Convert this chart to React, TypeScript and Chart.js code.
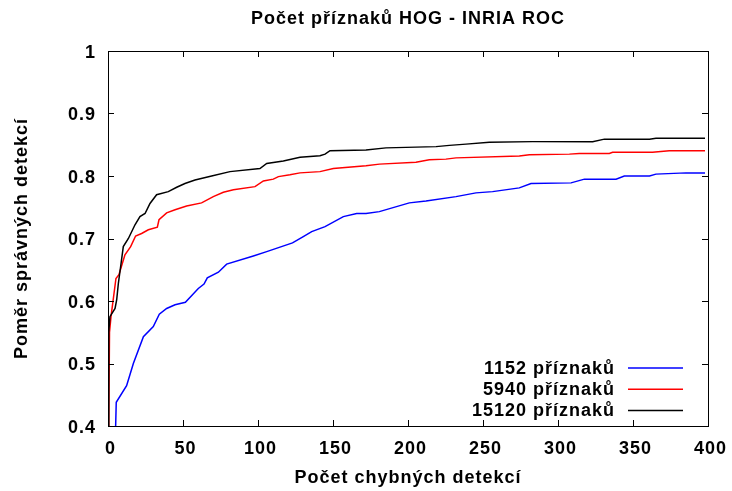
import React, { useEffect, useRef } from "react";
import { Chart, registerables } from "chart.js";

Chart.register(...registerables);

const TITLE = "Počet příznaků HOG - INRIA ROC";
const X_TITLE = "Počet chybných detekcí";
const Y_TITLE = "Poměr správných detekcí";
const SERIES_LABELS = ["1152 příznaků", "5940 příznaků", "15120 příznaků"];
const SERIES_COLORS = ["#0000ff", "#ff0000", "#000000"];

const blueX = [5.1, 5.5, 12.4, 16.9, 23.6, 30.2, 34.2, 39.1, 44.7, 51.6, 60.2, 64, 66.2, 73.6, 79.1, 96.9, 105.8, 123, 130.2, 135.8, 144.7, 156.9, 165.8, 172, 180.9, 200.9, 212, 232, 245.3, 256.4, 274.2, 282, 308.7, 317.6, 338.7, 344.2, 361, 365.3, 385.3, 398];
const blueY = [0.4, 0.438, 0.4645, 0.5, 0.543, 0.559, 0.579, 0.588, 0.594, 0.598, 0.62, 0.627, 0.637, 0.646, 0.659, 0.672, 0.679, 0.693, 0.703, 0.711, 0.719, 0.735, 0.74, 0.74, 0.743, 0.757, 0.76, 0.767, 0.773, 0.775, 0.781, 0.788, 0.789, 0.795, 0.795, 0.8, 0.8, 0.803, 0.805, 0.805];

const redX = [0.5, 1, 2, 5.3, 7.3, 11.3, 15.1, 18.4, 22.4, 26.9, 32.9, 34, 39.1, 44.7, 52.4, 62.4, 70.2, 76.9, 83.6, 98, 103.6, 110.2, 113.6, 121.3, 128, 141.3, 150.2, 172, 181, 205.3, 214.2, 225.3, 232, 274.2, 280.9, 307.6, 314.2, 334.2, 336.4, 363, 374.2, 398];
const redY = [0.4, 0.55, 0.575, 0.636, 0.642, 0.674, 0.687, 0.704, 0.708, 0.714, 0.718, 0.73, 0.741, 0.746, 0.752, 0.757, 0.767, 0.774, 0.778, 0.783, 0.792, 0.795, 0.799, 0.802, 0.805, 0.807, 0.812, 0.8165, 0.819, 0.822, 0.826, 0.827, 0.829, 0.832, 0.834, 0.835, 0.836, 0.836, 0.838, 0.838, 0.8405, 0.8405];

const blackX = [0, 0.5, 1.3, 4.7, 5.8, 6.9, 8.7, 10.2, 13.6, 18, 21.3, 24.7, 28, 32.4, 40.2, 45.8, 51.3, 58, 69.1, 81.3, 101.3, 105.8, 116.9, 128, 141.3, 144.7, 148, 172, 185.3, 218.7, 227.6, 238.7, 254.2, 283.1, 323.1, 330.9, 361, 365.3, 398];
const blackY = [0.4, 0.55, 0.575, 0.588, 0.602, 0.628, 0.66, 0.687, 0.7, 0.722, 0.735, 0.74, 0.756, 0.77, 0.775, 0.782, 0.788, 0.7935, 0.8, 0.807, 0.812, 0.82, 0.824, 0.83, 0.8325, 0.835, 0.8405, 0.8416, 0.845, 0.847, 0.849, 0.851, 0.854, 0.855, 0.855, 0.859, 0.859, 0.8603, 0.8603];

const X_TICKS = [0, 50, 100, 150, 200, 250, 300, 350, 400];
const Y_TICKS = [0.4, 0.5, 0.6, 0.7, 0.8, 0.9, 1];

const FONT_FAMILY = "'Liberation Sans', Arial, sans-serif";

function pts(xs: number[], ys: number[]) {
  return xs.map((x, i) => ({ x, y: ys[i] }));
}

const spacingPlugin = {
  id: "spacing",
  beforeLayout(chart: any) {
    chart.ctx.letterSpacing = "1px";
  },
  beforeDraw(chart: any) {
    chart.ctx.letterSpacing = "1px";
  },
};

const framePlugin = {
  id: "frame",
  afterDraw(chart: any) {
    const { ctx, chartArea } = chart;
    const { left, right, top, bottom } = chartArea;
    const xs = chart.scales.x;
    const ys = chart.scales.y;
    ctx.save();
    ctx.strokeStyle = "#000";
    ctx.lineWidth = 1;
    ctx.strokeRect(left + 0.5, top + 0.5, right - left, bottom - top);
    const tl = 6;
    ctx.beginPath();
    X_TICKS.forEach((v) => {
      const px = Math.round(xs.getPixelForValue(v)) + 0.5;
      ctx.moveTo(px, bottom);
      ctx.lineTo(px, bottom - tl);
      ctx.moveTo(px, top);
      ctx.lineTo(px, top + tl);
    });
    Y_TICKS.forEach((v) => {
      const py = Math.round(ys.getPixelForValue(v)) + 0.5;
      ctx.moveTo(left, py);
      ctx.lineTo(left + tl, py);
      ctx.moveTo(right, py);
      ctx.lineTo(right - tl, py);
    });
    ctx.stroke();

    // legend
    ctx.letterSpacing = "1px";
    ctx.font = "bold 18px " + FONT_FAMILY;
    ctx.textAlign = "right";
    ctx.textBaseline = "middle";
    const textRight = right - 93;
    const lineStart = right - 80;
    const lineEnd = right - 25;
    const rowY0 = bottom - 58;
    const rowGap = 21.2;
    chart.data.datasets.forEach((ds: any, i: number) => {
      const y = rowY0 + i * rowGap;
      ctx.fillStyle = "#000";
      ctx.fillText(ds.label, textRight, y + 1);
      ctx.beginPath();
      ctx.strokeStyle = ds.borderColor;
      ctx.lineWidth = 1.5;
      ctx.moveTo(lineStart, y);
      ctx.lineTo(lineEnd, y);
      ctx.stroke();
    });
    ctx.restore();
  },
};

export default function App() {
  const ref = useRef<HTMLCanvasElement | null>(null);
  useEffect(() => {
    document.body.style.margin = "0";
    const canvas = ref.current!;
    const font = { family: FONT_FAMILY, size: 18, weight: "bold" as const };
    const chart = new Chart(canvas, {
      type: "scatter",
      data: {
        datasets: [
          { label: SERIES_LABELS[0], data: pts(blueX, blueY), borderColor: SERIES_COLORS[0], order: 3 },
          { label: SERIES_LABELS[1], data: pts(redX, redY), borderColor: SERIES_COLORS[1], order: 2 },
          { label: SERIES_LABELS[2], data: pts(blackX, blackY), borderColor: SERIES_COLORS[2], order: 1 },
        ].map((d) => ({
          ...d,
          showLine: true,
          pointRadius: 0,
          borderWidth: 1.5,
          backgroundColor: d.borderColor,
          tension: 0,
        })),
      },
      options: {
        responsive: false,
        animation: false,
        layout: { padding: { left: 0, right: 24, top: 0, bottom: 0 } },
        plugins: {
          legend: { display: false },
          tooltip: { enabled: false },
          title: {
            display: true,
            text: TITLE,
            color: "#000",
            font,
            fullSize: false,
            padding: { top: 8, bottom: 21.4 },
          },
        },
        scales: {
          x: {
            type: "linear",
            min: 0,
            max: 400,
            afterFit: (s: any) => {
              s.height = 65;
              s.paddingLeft = 0;
              s.paddingRight = 0;
            },
            afterBuildTicks: (s: any) => {
              s.ticks = X_TICKS.map((v) => ({ value: v }));
            },
            grid: { display: false, drawTicks: false },
            border: { display: false },
            ticks: { color: "#000", font, padding: 12, maxRotation: 0, autoSkip: false, labelOffset: 2.5 },
            title: { display: true, text: X_TITLE, color: "#000", font, padding: { top: 0, bottom: 2 } },
          },
          y: {
            type: "linear",
            min: 0.4,
            max: 1,
            afterFit: (s: any) => {
              s.width = 108;
              s.paddingTop = 0;
              s.paddingBottom = 0;
            },
            afterBuildTicks: (s: any) => {
              s.ticks = Y_TICKS.map((v) => ({ value: v }));
            },
            grid: { display: false, drawTicks: false },
            border: { display: false },
            ticks: {
              color: "#000",
              font,
              padding: 12,
              autoSkip: false,
              labelOffset: 2,
              callback: (v: any) => String(Number(Number(v).toFixed(1))),
            },
            title: { display: true, text: Y_TITLE, color: "#000", font, padding: { top: 11, bottom: 0 } },
          },
        },
      },
      plugins: [spacingPlugin, framePlugin],
    });
    return () => chart.destroy();
  }, []);
  return <canvas ref={ref} width={732} height={491} style={{ display: "block" }} />;
}
